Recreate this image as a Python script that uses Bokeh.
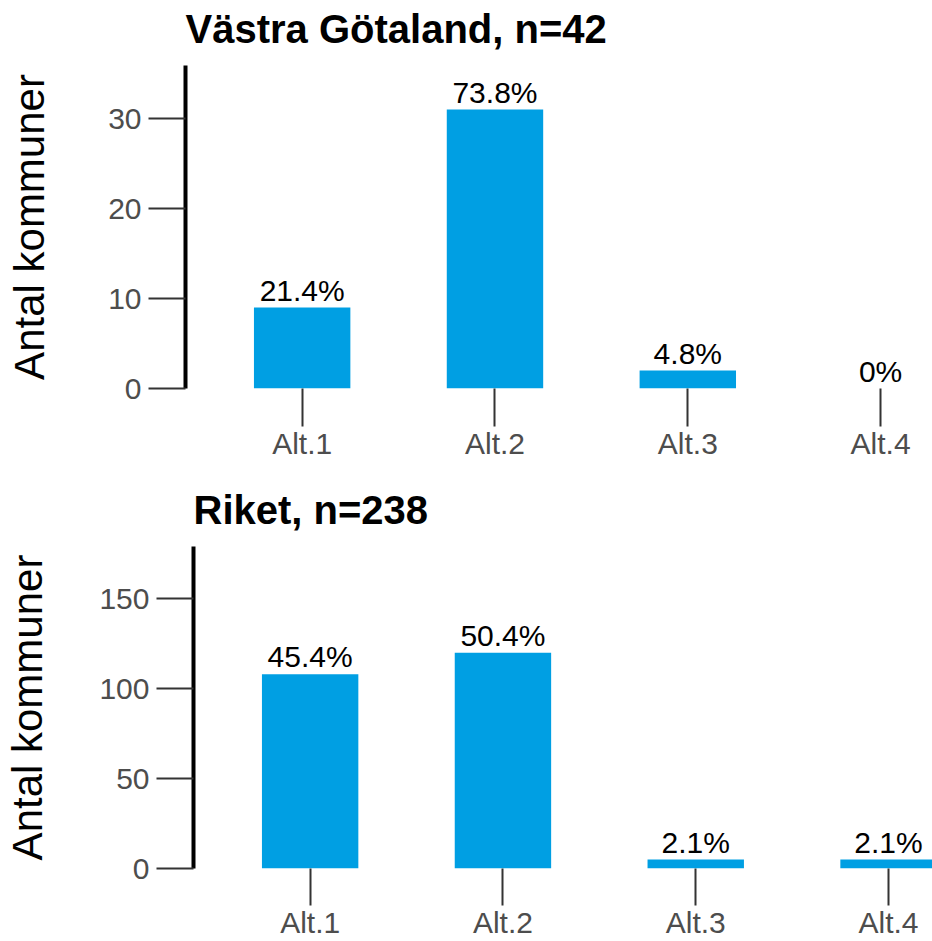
from bokeh.plotting import figure
from bokeh.models import ColumnDataSource, Range1d, FixedTicker, LabelSet, Title
from bokeh.layouts import column, row
from bokeh.embed import file_html
from bokeh.resources import INLINE
from bokeh.core.properties import value

categories = ["Alt.1", "Alt.2", "Alt.3", "Alt.4"]

vg_title = "Västra Götaland, n=42"
vg_counts = [9, 31, 2, 0]
vg_labels = ["21.4%", "73.8%", "4.8%", "0%"]
vg_yticks = [0, 10, 20, 30]
vg_ymax = 35.9

riket_title = "Riket, n=238"
riket_counts = [108, 120, 5, 5]
riket_labels = ["45.4%", "50.4%", "2.1%", "2.1%"]
riket_yticks = [0, 50, 100, 150]
riket_ymax = 179

y_label = "Antal kommuner"

FONT = "Liberation Sans"
BAR = "#009FE3"
TICK = "#333333"
TICKLAB = "#4D4D4D"


def make_panel(title, counts, labels, yticks, ymax, height, b_left, b_top, b_bottom,
               xend, lab_standoff, xtick_out):
    pos = list(range(1, len(categories) + 1))
    src = ColumnDataSource(dict(x=pos, top=counts, lab=labels))
    p = figure(width=932, height=height, output_backend="svg", toolbar_location=None,
               title=None,
               x_range=Range1d(0.395, xend), y_range=Range1d(0, ymax),
               min_border_left=b_left, min_border_right=0,
               min_border_top=b_top, min_border_bottom=b_bottom)
    p.vbar(x="x", top="top", bottom=0, width=0.5, source=src,
           fill_color=BAR, line_color=None)
    p.add_layout(LabelSet(x="x", y="top", text="lab", source=src,
                          text_align="center", text_baseline="alphabetic",
                          y_offset=7, text_font_size="30px",
                          text_font=value(FONT), text_color="black"))

    # blank spacer between the title and the plot area
    p.add_layout(Title(text=" ", text_font_size="2px", text_color="white",
                       standoff=11), "above")
    p.add_layout(Title(text=title, text_font=FONT, text_font_size="40px",
                       text_font_style="bold", text_color="black",
                       align="left", standoff=0), "above")

    ya = p.yaxis[0]
    ya.ticker = FixedTicker(ticks=yticks)
    ya.axis_line_color = "black"
    ya.axis_line_width = 4
    ya.major_tick_out = 37
    ya.major_tick_in = 0
    ya.major_tick_line_color = TICK
    ya.major_tick_line_width = 2
    ya.minor_tick_line_color = None
    ya.major_label_text_font = FONT
    ya.major_label_text_font_size = "30px"
    ya.major_label_text_color = TICKLAB
    ya.major_label_standoff = 7
    ya.axis_label = y_label
    ya.axis_label_text_font = FONT
    ya.axis_label_text_font_size = "42px"
    ya.axis_label_text_font_style = "normal"
    ya.axis_label_text_color = "black"
    ya.axis_label_standoff = lab_standoff

    xa = p.xaxis[0]
    xa.ticker = FixedTicker(ticks=pos)
    xa.major_label_overrides = {i: c for i, c in zip(pos, categories)}
    xa.axis_line_color = None
    xa.major_tick_out = xtick_out
    xa.major_tick_in = 0
    xa.major_tick_line_color = TICK
    xa.major_tick_line_width = 2
    xa.minor_tick_line_color = None
    xa.major_label_text_font = FONT
    xa.major_label_text_font_size = "30px"
    xa.major_label_text_color = TICKLAB
    xa.major_label_standoff = 0

    p.xgrid.grid_line_color = None
    p.ygrid.grid_line_color = None
    p.outline_line_color = None
    p.background_fill_color = "white"
    p.border_fill_color = "white"
    return p


p1 = make_panel(vg_title, vg_counts, vg_labels, vg_yticks, vg_ymax,
                470, 185, 65, 82, 4.269, 52, 38)
p2 = make_panel(riket_title, riket_counts, riket_labels, riket_yticks, riket_ymax,
                471, 193, 76, 73, 4.228, 45, 37)

layout = column(row(p1), row(p2), spacing=0)
open("out.html", "w").write(file_html(layout, INLINE))
